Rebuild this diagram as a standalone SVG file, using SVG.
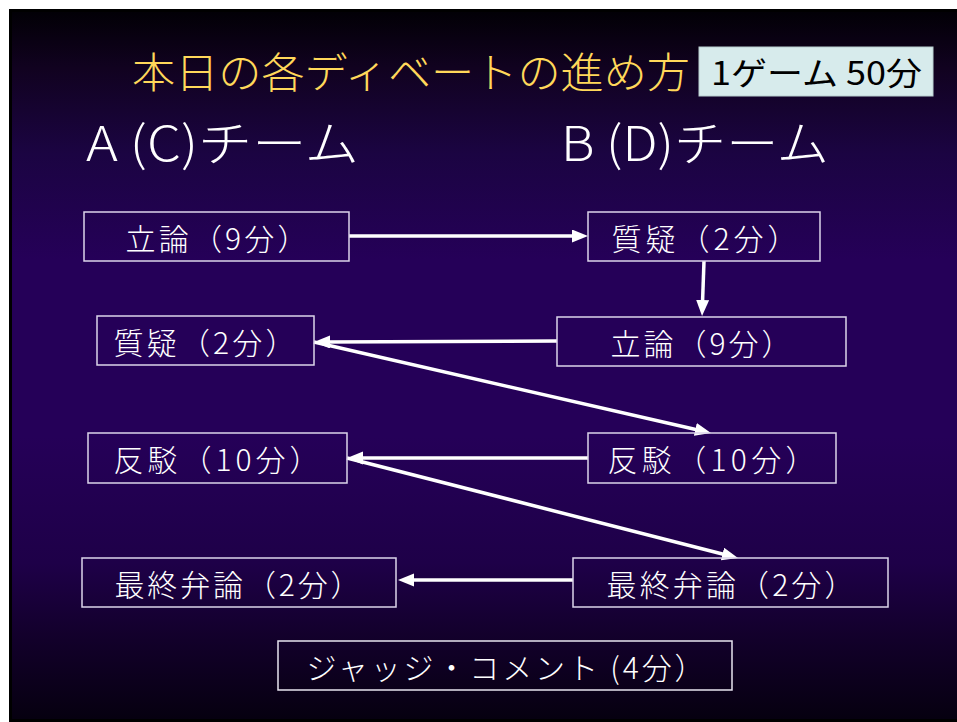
<svg xmlns="http://www.w3.org/2000/svg" width="957" height="722" viewBox="0 0 957 722">
<defs>
<linearGradient id="bg" x1="0" y1="0" x2="0" y2="1">
<stop offset="0" stop-color="#020006"/>
<stop offset="0.08" stop-color="#110220"/>
<stop offset="0.2" stop-color="#1b0442"/>
<stop offset="0.35" stop-color="#250058"/>
<stop offset="0.6" stop-color="#250058"/>
<stop offset="0.78" stop-color="#1e0048"/>
<stop offset="0.88" stop-color="#13002c"/>
<stop offset="1" stop-color="#060010"/>
</linearGradient>
<marker id="ah" markerUnits="userSpaceOnUse" markerWidth="18" markerHeight="14" refX="6" refY="6.5" orient="auto">
<path d="M0,0 L16,6.5 L0,13 z" fill="#ffffff"/>
</marker>
<style>
.box{fill:none;stroke:#dcd4ea;stroke-width:1.5}
.lbl{fill:#ffffff;font-family:"Noto Sans CJK JP","Noto Sans",sans-serif;font-size:30px;font-weight:300}
.team{fill:#ffffff;font-family:"Noto Sans CJK JP","Noto Sans",sans-serif;font-size:48px;font-weight:300}
.conn{stroke:#ffffff;stroke-width:3.5;fill:none;marker-end:url(#ah)}
</style>
</defs>
<rect x="0" y="0" width="957" height="722" fill="#ffffff"/>
<rect x="9" y="9" width="948" height="713" fill="#000000"/>
<rect x="12" y="12" width="945" height="707" fill="url(#bg)"/>

<g id="title">
<text x="132" y="88" font-family="'Noto Sans CJK JP',sans-serif" font-size="42" font-weight="300" fill="#ffd85a" textLength="558" lengthAdjust="spacingAndGlyphs">本日の各ディベートの進め方</text>
</g>
<g id="badge">
<rect x="699" y="47" width="234" height="49" fill="#d7ebec" stroke="#b9cfd0" stroke-width="1"/>
<text x="711" y="85" font-family="'Noto Sans CJK JP',sans-serif" font-size="32" fill="#000000" textLength="211" lengthAdjust="spacingAndGlyphs">1ゲーム 50分</text>
</g>
<g id="teamA"><text class="team" x="86" y="161" textLength="273" lengthAdjust="spacingAndGlyphs">A (C)チーム</text></g>
<g id="teamB"><text class="team" x="561" y="161" textLength="268" lengthAdjust="spacingAndGlyphs">B (D)チーム</text></g>

<g id="connectors">
<path class="conn" d="M349,236 L578,236"/>
<path class="conn" d="M704,261 L702.4,306"/>
<path class="conn" d="M557,341 L324,342"/>
<path class="conn" d="M314,342 L701.2,430.8"/>
<path class="conn" d="M588,458 L357,458"/>
<path class="conn" d="M347,458 L728.3,555.5"/>
<path class="conn" d="M573,580 L408,580"/>
</g>

<g id="a-constructive"><rect class="box" x="84" y="212" width="265" height="49"/><text class="lbl" x="125.5" y="250" textLength="182" lengthAdjust="spacing">立論（9分）</text></g>
<g id="b-question"><rect class="box" x="588" y="212" width="232" height="49"/><text class="lbl" x="611.5" y="250" textLength="186" lengthAdjust="spacing">質疑（2分）</text></g>
<g id="a-question"><rect class="box" x="97" y="316" width="217" height="49"/><text class="lbl" x="113.5" y="354" textLength="182" lengthAdjust="spacing">質疑（2分）</text></g>
<g id="b-constructive"><rect class="box" x="557" y="317" width="289" height="49"/><text class="lbl" x="610.5" y="355" textLength="181" lengthAdjust="spacing">立論（9分）</text></g>
<g id="a-rebuttal"><rect class="box" x="88" y="433" width="259" height="50"/><text class="lbl" x="113.5" y="471" textLength="206" lengthAdjust="spacing">反駁（10分）</text></g>
<g id="b-rebuttal"><rect class="box" x="588" y="433" width="248" height="50"/><text class="lbl" x="607.5" y="471" textLength="208" lengthAdjust="spacing">反駁（10分）</text></g>
<g id="a-closing"><rect class="box" x="82" y="558" width="314" height="49"/><text class="lbl" x="114.5" y="596" textLength="246" lengthAdjust="spacing">最終弁論（2分）</text></g>
<g id="b-closing"><rect class="box" x="573" y="558" width="315" height="49"/><text class="lbl" x="606.5" y="596" textLength="248" lengthAdjust="spacing">最終弁論（2分）</text></g>
<g id="judge"><rect class="box" x="278" y="641" width="454" height="49" style="stroke:#e8e4f0"/><text class="lbl" x="306.5" y="679" textLength="398" lengthAdjust="spacing">ジャッジ・コメント (4分）</text></g>
</svg>
